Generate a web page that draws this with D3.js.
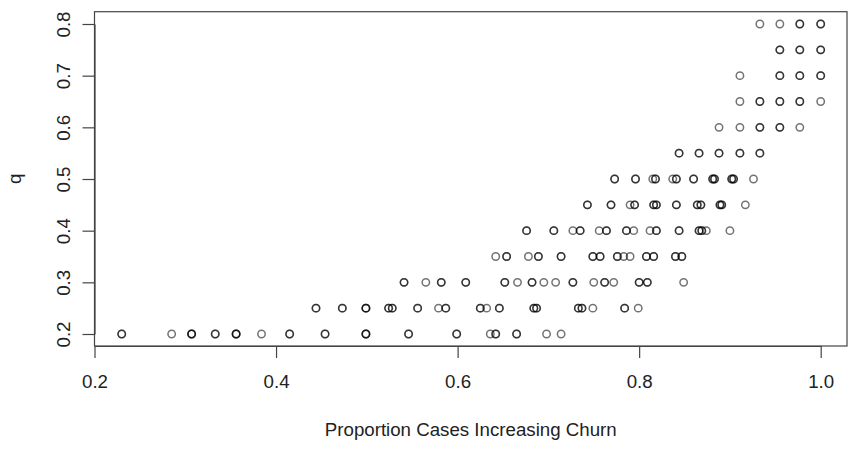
<!DOCTYPE html>
<head>
	<meta charset="utf-8" />
	<style>
		body {
			margin: 0;
			background-color: #fff;
			font-family: 'Liberation Sans', Arial, Helvetica, sans-serif;
		}
		.axis text {
			font-size: 18.7px;
			fill: #222;
		}
		.axis line,
		.axis path {
			stroke: #444;
			stroke-width: 1.2;
		}
	</style>
</head>

<body>
	<svg id="chart" width="850" height="450"></svg>

	<script src="https://cdn.jsdelivr.net/npm/d3@7"></script>
	<script>
		// one array per q level, repeated values = overlapping points
		const q020 = [0.230, 0.230, 0.285, 0.307, 0.307, 0.307, 0.333, 0.333, 0.356, 0.356, 0.356, 0.384,
			0.415, 0.415, 0.454, 0.454, 0.499, 0.499, 0.499, 0.546, 0.546, 0.599, 0.599, 0.636,
			0.642, 0.642, 0.665, 0.665, 0.698, 0.714];
		const q025 = [0.444, 0.444, 0.473, 0.473, 0.499, 0.499, 0.499, 0.524, 0.524, 0.528, 0.528,
			0.556, 0.556, 0.579, 0.587, 0.587, 0.625, 0.625, 0.632, 0.646, 0.646, 0.684, 0.684,
			0.687, 0.687, 0.733, 0.733, 0.737, 0.737, 0.749, 0.784, 0.784, 0.799];
		const q030 = [0.541, 0.541, 0.565, 0.582, 0.582, 0.609, 0.609, 0.652, 0.652, 0.666, 0.682, 0.682,
			0.695, 0.708, 0.727, 0.727, 0.750, 0.762, 0.762, 0.772, 0.800, 0.800, 0.809, 0.809, 0.849];
		const q035 = [0.642, 0.654, 0.654, 0.678, 0.689, 0.689, 0.714, 0.714, 0.749, 0.749, 0.757, 0.757,
			0.776, 0.776, 0.783, 0.790, 0.808, 0.808, 0.816, 0.816, 0.840, 0.840, 0.847, 0.847];
		const q040 = [0.676, 0.676, 0.706, 0.706, 0.727, 0.735, 0.735, 0.756, 0.764, 0.764, 0.786, 0.786,
			0.794, 0.812, 0.819, 0.819, 0.844, 0.844, 0.866, 0.866, 0.869, 0.869, 0.874, 0.900];
		const q045 = [0.743, 0.743, 0.769, 0.769, 0.790, 0.795, 0.795, 0.816, 0.816, 0.819, 0.819,
			0.841, 0.841, 0.864, 0.864, 0.868, 0.868, 0.889, 0.889, 0.891, 0.891, 0.917];
		const q050 = [0.773, 0.773, 0.796, 0.796, 0.815, 0.818, 0.818, 0.837, 0.841, 0.841, 0.860, 0.860,
			0.881, 0.881, 0.883, 0.883, 0.902, 0.902, 0.904, 0.904, 0.926];
		const q055 = [0.844, 0.844, 0.866, 0.866, 0.888, 0.888, 0.911, 0.911, 0.933, 0.933];
		const q060 = [0.888, 0.911, 0.933, 0.933, 0.955, 0.955, 0.977];
		const q065 = [0.911, 0.933, 0.933, 0.955, 0.955, 0.977, 0.977, 1.0];
		const q070 = [0.911, 0.955, 0.955, 0.977, 0.977, 1.0, 1.0];
		const q075 = [0.955, 0.955, 0.977, 0.977, 1.0, 1.0];
		const q080 = [0.933, 0.955, 0.977, 0.977, 1.0, 1.0];

		const qLevels = [0.2, 0.25, 0.3, 0.35, 0.4, 0.45, 0.5, 0.55, 0.6, 0.65, 0.7, 0.75, 0.8];
		const rows = [q020, q025, q030, q035, q040, q045, q050, q055, q060, q065, q070, q075, q080];

		const xTicks = [0.2, 0.4, 0.6, 0.8, 1.0];
		const yTicks = [0.2, 0.3, 0.4, 0.5, 0.6, 0.7, 0.8];

		const box = { left: 94.5, right: 847, top: 11.7, bottom: 346 };

		const x = d3.scaleLinear().domain([0.2, 1.0]).range([94.5, 820.7]);
		const y = d3.scaleLinear().domain([0.2, 0.8]).range([334, 24]);

		const points = [];
		rows.forEach((r, i) => r.forEach(v => points.push({ x: v, q: qLevels[i] })));

		const svg = d3.select('#chart');

		svg.append('g')
			.selectAll('circle')
			.data(points)
			.join('circle')
			.attr('cx', d => x(d.x))
			.attr('cy', d => y(d.q))
			.attr('r', 3.7)
			.attr('fill', 'none')
			.attr('stroke', '#000')
			.attr('stroke-opacity', 0.55)
			.attr('stroke-width', 1.5);

		svg.append('rect')
			.attr('x', box.left)
			.attr('y', box.top)
			.attr('width', box.right - box.left)
			.attr('height', box.bottom - box.top)
			.attr('fill', 'none')
			.attr('stroke', '#444')
			.attr('stroke-width', 1.2);

		svg.append('g')
			.attr('class', 'axis')
			.attr('transform', `translate(0,${box.bottom})`)
			.call(d3.axisBottom(x).tickValues(xTicks).tickFormat(d3.format('.1f'))
				.tickSize(12).tickSizeOuter(0).tickPadding(16.7));

		svg.append('g')
			.attr('class', 'axis')
			.attr('transform', `translate(${box.left},0)`)
			.call(d3.axisLeft(y).tickValues(yTicks).tickFormat(d3.format('.1f'))
				.tickSize(12).tickSizeOuter(0))
			.call(g => g.selectAll('text')
				.attr('x', null)
				.attr('dy', null)
				.attr('text-anchor', 'middle')
				.attr('transform', 'translate(-24.5,0) rotate(-90)'));

		svg.selectAll('.axis').attr('font-family', null).attr('font-size', null);

		svg.append('text')
			.attr('x', (box.left + box.right) / 2)
			.attr('y', 435.5)
			.attr('text-anchor', 'middle')
			.attr('font-size', '18.7px')
			.attr('fill', '#222')
			.text('Proportion Cases Increasing Churn');

		svg.append('text')
			.attr('transform', `translate(21,${(box.top + box.bottom) / 2}) rotate(-90)`)
			.attr('text-anchor', 'middle')
			.attr('font-size', '18.7px')
			.attr('fill', '#222')
			.text('q');
	</script>
</body>
